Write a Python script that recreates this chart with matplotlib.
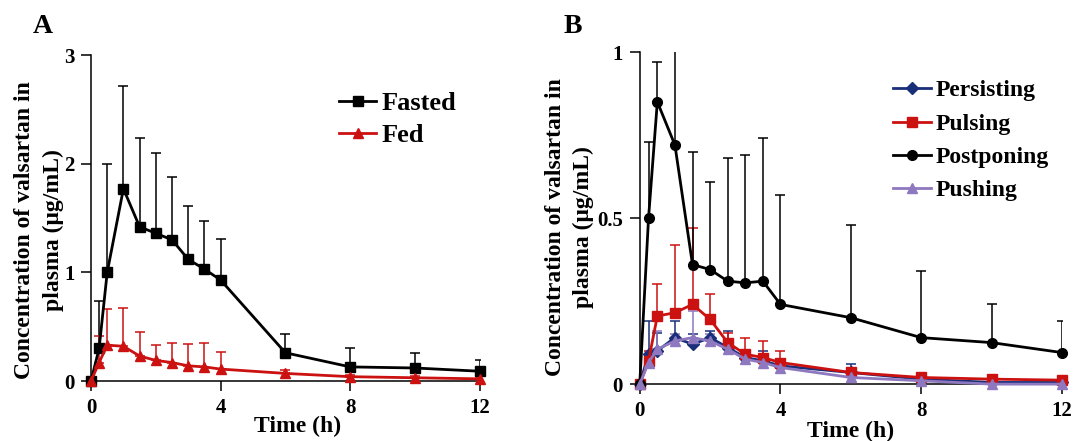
import numpy as np
import matplotlib
matplotlib.use("Agg")
import matplotlib.pyplot as plt

plt.rcParams['font.family'] = ['Liberation Serif', 'DejaVu Serif']
plt.rcParams['font.weight'] = 'bold'

# sampling times (h)
tempo = [0, 0.25, 0.5, 1, 1.5, 2, 2.5, 3, 3.5, 4, 6, 8, 10, 12]

# panel A
fasted = [0, 0.30, 1.00, 1.77, 1.42, 1.36, 1.30, 1.12, 1.03, 0.93, 0.26, 0.13, 0.12, 0.09]
fasted_sd = [0, 0.44, 1.00, 0.95, 0.82, 0.74, 0.58, 0.49, 0.44, 0.38, 0.17, 0.17, 0.14, 0.10]
fed = [0, 0.17, 0.33, 0.32, 0.23, 0.19, 0.17, 0.14, 0.13, 0.11, 0.07, 0.04, 0.03, 0.02]
fed_sd = [0, 0.24, 0.33, 0.35, 0.22, 0.14, 0.18, 0.20, 0.22, 0.16, 0.03, 0.02, 0.02, 0.01]

# panel B
persisting = [0, 0.09, 0.10, 0.14, 0.12, 0.14, 0.11, 0.08, 0.07, 0.055, 0.035, 0.015, 0.005, 0.005]
persisting_sd = [0, 0.10, 0.055, 0.05, 0.03, 0.02, 0.05, 0.02, 0.03, 0.015, 0.025, 0.005, 0.003, 0.003]
pulsing = [0, 0.07, 0.205, 0.215, 0.24, 0.195, 0.125, 0.09, 0.08, 0.065, 0.035, 0.02, 0.015, 0.012]
pulsing_sd = [0, 0.03, 0.095, 0.205, 0.23, 0.075, 0.03, 0.05, 0.05, 0.035, 0.015, 0.01, 0.005, 0.005]
postponing = [0, 0.50, 0.85, 0.72, 0.36, 0.345, 0.31, 0.305, 0.31, 0.24, 0.20, 0.14, 0.125, 0.095]
postponing_sd = [0, 0.23, 0.12, 0.35, 0.34, 0.265, 0.37, 0.385, 0.43, 0.33, 0.28, 0.20, 0.115, 0.095]
pushing = [0, 0.065, 0.105, 0.13, 0.14, 0.13, 0.105, 0.075, 0.065, 0.05, 0.02, 0.01, 0.0, 0.0]
pushing_sd = [0, 0.02, 0.055, 0.02, 0.08, 0.02, 0.02, 0.015, 0.015, 0.01, 0.01, 0.005, 0.003, 0.003]

vermelho = '#cc1111'
azul = '#1a2f7a'
roxo = '#8e78bf'

fig = plt.figure(figsize=(10.77, 4.41), dpi=100)
axA = fig.add_axes([0.0845, 0.136, 0.361, 0.739])
axB = fig.add_axes([0.594, 0.129, 0.392, 0.753])


def serie(ax, y, sd, cor, marcador, nome, ms=7):
    ax.errorbar(tempo, y, yerr=[np.zeros(len(sd)), sd], fmt='none', ecolor=cor,
                elinewidth=1.1, capsize=3.5, capthick=1.1)
    ax.plot(tempo, y, color=cor, marker=marcador, ms=ms, lw=2.0, label=nome,
            clip_on=False, zorder=3)


serie(axA, fasted, fasted_sd, 'black', 's', 'Fasted')
serie(axA, fed, fed_sd, vermelho, '^', 'Fed')
axA.set_ylim(0, 3)
axA.set_yticks([0, 1, 2, 3])

serie(axB, persisting, persisting_sd, azul, 'D', 'Persisting', ms=6)
serie(axB, pulsing, pulsing_sd, vermelho, 's', 'Pulsing')
serie(axB, postponing, postponing_sd, 'black', 'o', 'Postponing')
serie(axB, pushing, pushing_sd, roxo, '^', 'Pushing')
axB.set_ylim(0, 1)
axB.set_yticks([0, 0.5, 1])
axB.set_yticklabels(['0', '0.5', '1'])

for ax in (axA, axB):
    ax.set_xlim(0, 12)
    ax.set_xticks([0, 4, 8, 12])
    ax.spines['top'].set_visible(False)
    ax.spines['right'].set_visible(False)
    ax.spines['left'].set_linewidth(1.1)
    ax.spines['bottom'].set_linewidth(1.1)
    ax.tick_params(direction='out', length=7, width=1.1, labelsize=15, pad=5)
    ax.set_xlabel('Time (h)', fontsize=17, fontweight='bold', labelpad=0)
    ax.set_ylabel('Concentration of valsartan in\nplasma (\u03bcg/mL)', fontsize=17,
                  fontweight='bold', linespacing=1.45)

axA.xaxis.set_label_coords(0.53, -0.107)
axA.yaxis.set_label_coords(-0.07, 0.463)
axB.yaxis.set_label_coords(-0.108, 0.473)

axA.legend(loc='upper right', bbox_to_anchor=(1.0, 0.96), frameon=False, fontsize=19,
           handlelength=1.4, handletextpad=0.2, labelspacing=0.3)
axB.legend(loc='upper right', bbox_to_anchor=(1.02, 0.98), frameon=False, fontsize=17,
           handlelength=1.6, handletextpad=0.2, labelspacing=0.5)

fig.text(0.030, 0.925, 'A', fontsize=20, fontweight='bold')
fig.text(0.523, 0.925, 'B', fontsize=20, fontweight='bold')

fig.savefig('out.png', dpi=100)
